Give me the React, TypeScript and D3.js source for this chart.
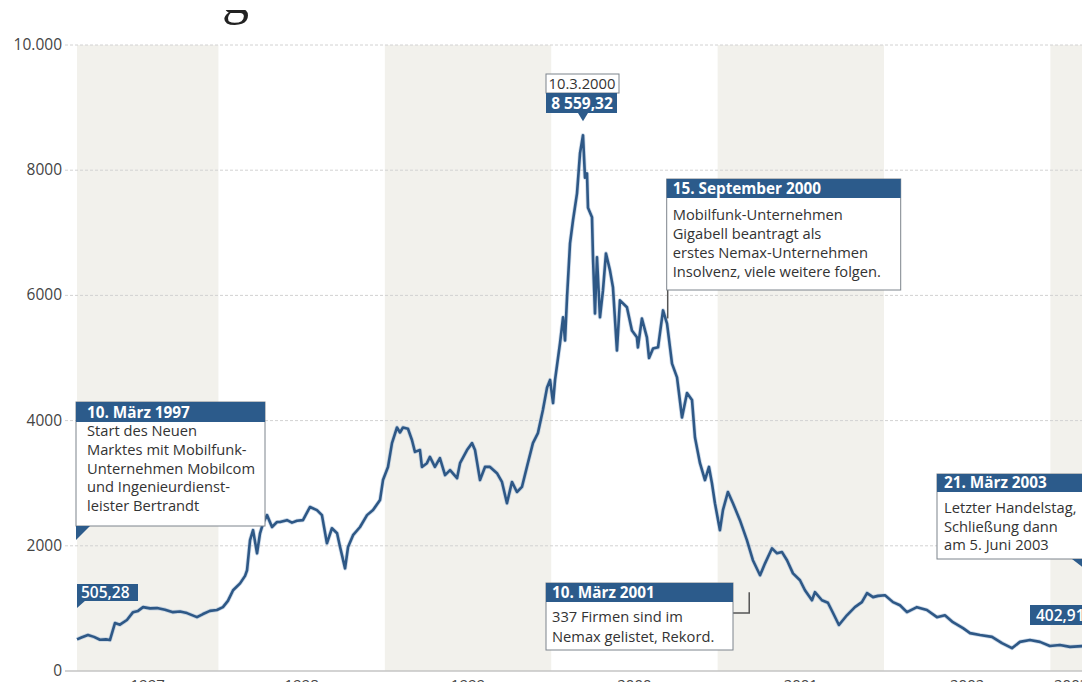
import React from "react";
import * as d3 from "d3";

// ---- Data ----
const years: number[] = [
  1997.15, 1997.18, 1997.216, 1997.252, 1997.288, 1997.324, 1997.348, 1997.378, 1997.408, 1997.45,
  1997.487, 1997.517, 1997.547, 1997.589, 1997.631, 1997.679, 1997.727, 1997.769, 1997.811, 1997.871,
  1997.907, 1997.949, 1997.991, 1998.027, 1998.057, 1998.088, 1998.13, 1998.16, 1998.172, 1998.19,
  1998.208, 1998.232, 1998.25, 1998.268, 1998.292, 1998.322, 1998.352, 1998.37, 1998.412, 1998.442,
  1998.472, 1998.508, 1998.55, 1998.592, 1998.622, 1998.652, 1998.682, 1998.713, 1998.731, 1998.761,
  1998.779, 1998.809, 1998.851, 1998.893, 1998.929, 1998.971, 1998.989, 1999.019, 1999.043, 1999.073,
  1999.091, 1999.109, 1999.139, 1999.163, 1999.181, 1999.211, 1999.223, 1999.253, 1999.271, 1999.301,
  1999.331, 1999.362, 1999.392, 1999.434, 1999.452, 1999.494, 1999.524, 1999.542, 1999.572, 1999.602,
  1999.632, 1999.674, 1999.704, 1999.734, 1999.764, 1999.794, 1999.824, 1999.854, 1999.89, 1999.92,
  1999.95, 1999.975, 1999.993, 2000.011, 2000.023, 2000.053, 2000.071, 2000.083, 2000.095, 2000.113,
  2000.131, 2000.155, 2000.173, 2000.191, 2000.203, 2000.215, 2000.221, 2000.245, 2000.251, 2000.263,
  2000.275, 2000.293, 2000.311, 2000.329, 2000.353, 2000.371, 2000.395, 2000.413, 2000.455, 2000.485,
  2000.515, 2000.521, 2000.545, 2000.575, 2000.588, 2000.612, 2000.642, 2000.672, 2000.696, 2000.726,
  2000.756, 2000.786, 2000.816, 2000.846, 2000.864, 2000.894, 2000.924, 2000.948, 2000.966, 2000.984,
  2001.014, 2001.032, 2001.062, 2001.092, 2001.134, 2001.176, 2001.212, 2001.255, 2001.285, 2001.327,
  2001.357, 2001.387, 2001.417, 2001.453, 2001.495, 2001.525, 2001.567, 2001.585, 2001.627, 2001.663,
  2001.693, 2001.729, 2001.777, 2001.825, 2001.867, 2001.898, 2001.934, 2001.964, 2002.006, 2002.054,
  2002.096, 2002.138, 2002.198, 2002.258, 2002.318, 2002.366, 2002.414, 2002.475, 2002.517, 2002.577,
  2002.649, 2002.709, 2002.769, 2002.817, 2002.877, 2002.937, 2002.997, 2003.057, 2003.118, 2003.22,
];
const values: number[] = [
  505, 540, 575, 545, 500, 505, 495, 765, 740, 815,
  940, 960, 1020, 1000, 1005, 980, 940, 950, 925, 860,
  910, 960, 975, 1020, 1120, 1290, 1400, 1520, 1610, 2090,
  2250, 1880, 2200, 2360, 2490, 2300, 2380, 2380, 2410, 2370,
  2400, 2410, 2620, 2570, 2490, 2040, 2280, 2200, 1980, 1640,
  1980, 2170, 2300, 2490, 2570, 2730, 3050, 3260, 3640, 3890,
  3810, 3890, 3870, 3690, 3500, 3530, 3260, 3320, 3420, 3260,
  3400, 3130, 3210, 3080, 3320, 3530, 3640, 3530, 3050, 3260,
  3260, 3160, 3020, 2680, 3020, 2860, 2940, 3260, 3640, 3800,
  4170, 4530, 4650, 4280, 4650, 5240, 5650, 5280, 5970, 6830,
  7200, 7630, 8270, 8559, 7880, 7950, 7400, 7250, 6610, 5710,
  6610, 5650, 6080, 6670, 6400, 6130, 5120, 5920, 5810, 5440,
  5330, 5170, 5630, 5330, 5000, 5150, 5170, 5760, 5550, 4910,
  4690, 4050, 4440, 4330, 3730, 3320, 3050, 3260, 3000, 2680,
  2250, 2570, 2860, 2680, 2410, 2090, 1770, 1530, 1720, 1960,
  1880, 1900, 1770, 1560, 1450, 1290, 1130, 1260, 1130, 1090,
  930, 735, 890, 1020, 1100, 1245, 1180, 1200, 1210, 1100,
  1050, 940, 1020, 975, 860, 890, 780, 685, 605, 575,
  545, 445, 365, 465, 495, 465, 400, 415, 385, 403,
];
const yTicks: number[] = [0, 2000, 4000, 6000, 8000, 10000];
const yTickLabels: string[] = ["0", "2000", "4000", "6000", "8000", "10.000"];
const yearLabels: string[] = ["1997", "1998", "1999", "2000", "2001", "2002", "2003"];
const shadedYears: number[] = [1997, 1999, 2001, 2003];

const startValueLabel = "505,28";
const endValueLabel = "402,91";
const peakDate = "10.3.2000";
const peakValueLabel = "8 559,32";
const note1Head = "10. März 1997";
const note1Lines = ["Start des Neuen", "Marktes mit Mobilfunk-", "Unternehmen Mobilcom", "und Ingenieurdienst-", "leister Bertrandt"];
const note2Head = "15. September 2000";
const note2Lines = ["Mobilfunk-Unternehmen", "Gigabell beantragt als", "erstes Nemax-Unternehmen", "Insolvenz, viele weitere folgen."];
const note3Head = "10. März 2001";
const note3Lines = ["337 Firmen sind im", "Nemax gelistet, Rekord."];
const note4Head = "21. März 2003";
const note4Lines = ["Letzter Handelstag,", "Schließung dann", "am 5. Juni 2003"];

// ---- Styling ----
const W = 1082;
const H = 682;
const BLUE = "#2c5b8b";
const LINE = "#2e5886";
const BAND = "#f2f1ec";
const TEXT = "#333";
const FONT = "'Open Sans', 'Noto Sans', sans-serif";
const BODY_FS = 14.7;
const HEAD_FS = 15.3;

const x = d3.scaleLinear().domain([1997.15, 2003.25]).range([77, 1092]);
const y = d3.scaleLinear().domain([0, 10000]).range([671, 45]);

function Callout(props: {
  left: number; top: number; w: number; headH: number; bodyH: number;
  head: string; lines: string[]; pad: number; lineH: number; firstBase: number;
}) {
  const { left, top, w, headH, bodyH, head, lines, pad, lineH, firstBase } = props;
  return (
    <g>
      <rect x={left} y={top} width={w} height={headH + bodyH} fill="#fff" stroke="#7d848c" strokeWidth={1} />
      <rect x={left} y={top} width={w} height={headH} fill={BLUE} />
      <text x={left + pad} y={top + headH - 4.5} fill="#fff" fontWeight={700} fontSize={HEAD_FS} fontFamily={FONT}>{head}</text>
      {lines.map((l, i) => (
        <text key={i} x={left + pad} y={top + headH + firstBase + i * lineH} fill={TEXT} fontSize={BODY_FS} fontFamily={FONT}>{l}</text>
      ))}
    </g>
  );
}

export default function App() {
  const pts = years.map((yr, i) => [yr, values[i]] as [number, number]);
  const line = d3.line<[number, number]>().x(d => x(d[0])).y(d => y(d[1])).curve(d3.curveLinear);
  const [d0, d1] = x.domain();
  const xs = x(1997.15);
  const peakX = x(2000.191);
  const peakY = y(8559);
  const sepX = x(2000.70);
  const sepY = y(5600);
  const marX = x(2001.19);
  const marY = y(1450);

  return (
    <svg width={W} height={H} style={{ position: "absolute", left: 0, top: 0, background: "#fff" }} fontFamily={FONT}>
      <defs>
        <clipPath id="titleClip">
          <rect x={0} y={10} width={W} height={30} />
        </clipPath>
      </defs>
      {/* year bands */}
      {shadedYears.map(yr => {
        const a = Math.max(yr, d0);
        const b = Math.min(yr + 1, d1);
        return <rect key={yr} x={x(a)} y={y(10000)} width={x(b) - x(a)} height={y(0) - y(10000)} fill={BAND} />;
      })}
      {/* cropped title glyph */}
      <text x={222} y={12.5} clipPath="url(#titleClip)" fontFamily="'Liberation Serif', 'DejaVu Serif', serif" fontSize={54} fill="#222">g</text>
      {/* grid */}
      {yTicks.filter(t => t > 0).map(t => (
        <line key={t} x1={65} x2={W} y1={y(t)} y2={y(t)} stroke="#d2d2d2" strokeWidth={1} strokeDasharray="3,2" />
      ))}
      <line x1={65} x2={W} y1={y(0)} y2={y(0)} stroke="#c4c4c4" strokeWidth={1.5} />
      {yTicks.map((t, i) => (
        <text key={t} x={62} y={y(t) + 5} textAnchor="end" fontSize={15.5} fill="#444">{yTickLabels[i]}</text>
      ))}
      {yearLabels.map((lab, i) => {
        const yr = 1997 + i;
        const a = Math.max(yr, d0);
        const b = Math.min(yr + 1, 2003.25);
        return <text key={lab} x={(x(a) + x(b)) / 2} y={690} textAnchor="middle" fontSize={15} fill="#444">{lab}</text>;
      })}

      {/* data line */}
      <path d={line(pts) || ""} fill="none" stroke="#9db8d6" strokeOpacity={0.5} strokeWidth={4.2} strokeLinejoin="round" />
      <path d={line(pts) || ""} fill="none" stroke={LINE} strokeWidth={2.6} strokeLinejoin="round" />

      {/* Note 1 */}
      <Callout left={xs - 1} top={402} w={189} headH={20} bodyH={104} head={note1Head} lines={note1Lines} pad={11} lineH={18.8} firstBase={14} />
      <path d={`M${xs - 1},526 L${xs + 13},526 L${xs - 1},540 Z`} fill={BLUE} />

      {/* start value */}
      <rect x={xs} y={584} width={61} height={17} fill={BLUE} />
      <path d={`M${xs},600 L${xs + 9},600 L${xs},608 Z`} fill={BLUE} />
      <text x={xs + 4} y={598} fill="#fff" fontSize={15.5} fontWeight={600}>{startValueLabel}</text>

      {/* peak */}
      <rect x={peakX - 37} y={74} width={73} height={19} fill="#fff" stroke="#7d848c" strokeWidth={1} />
      <text x={peakX - 1} y={89} textAnchor="middle" fill={TEXT} fontSize={14.8}>{peakDate}</text>
      <rect x={peakX - 37} y={93} width={71} height={20} fill={BLUE} />
      <text x={peakX - 1} y={108.5} textAnchor="middle" fill="#fff" fontSize={15.5} fontWeight={700}>{peakValueLabel}</text>
      <path d={`M${peakX - 5},113 L${peakX + 5},113 L${peakX},${peakY - 14} Z`} fill={BLUE} />

      {/* Note 2 */}
      <line x1={sepX} x2={sepX} y1={290} y2={sepY - 2} stroke="#555" strokeWidth={1.5} />
      <Callout left={sepX - 1} top={179} w={234} headH={19} bodyH={92} head={note2Head} lines={note2Lines} pad={6} lineH={19} firstBase={22} />

      {/* Note 3 */}
      <path d={`M733,613 L${marX},613 L${marX},${marY + 12}`} fill="none" stroke="#555" strokeWidth={1.5} />
      <Callout left={546} top={583} w={187} headH={19} bodyH={48} head={note3Head} lines={note3Lines} pad={6} lineH={20} firstBase={20} />

      {/* Note 4 */}
      <Callout left={937} top={474} w={160} headH={18} bodyH={67} head={note4Head} lines={note4Lines} pad={7} lineH={18.5} firstBase={21} />
      <path d={`M1072,559 L1086,559 L1086,570 Z`} fill={BLUE} />

      {/* end value */}
      <rect x={1030} y={605} width={60} height={20} fill={BLUE} />
      <text x={1036} y={620.5} fill="#fff" fontSize={15.5} fontWeight={600}>{endValueLabel}</text>
    </svg>
  );
}
